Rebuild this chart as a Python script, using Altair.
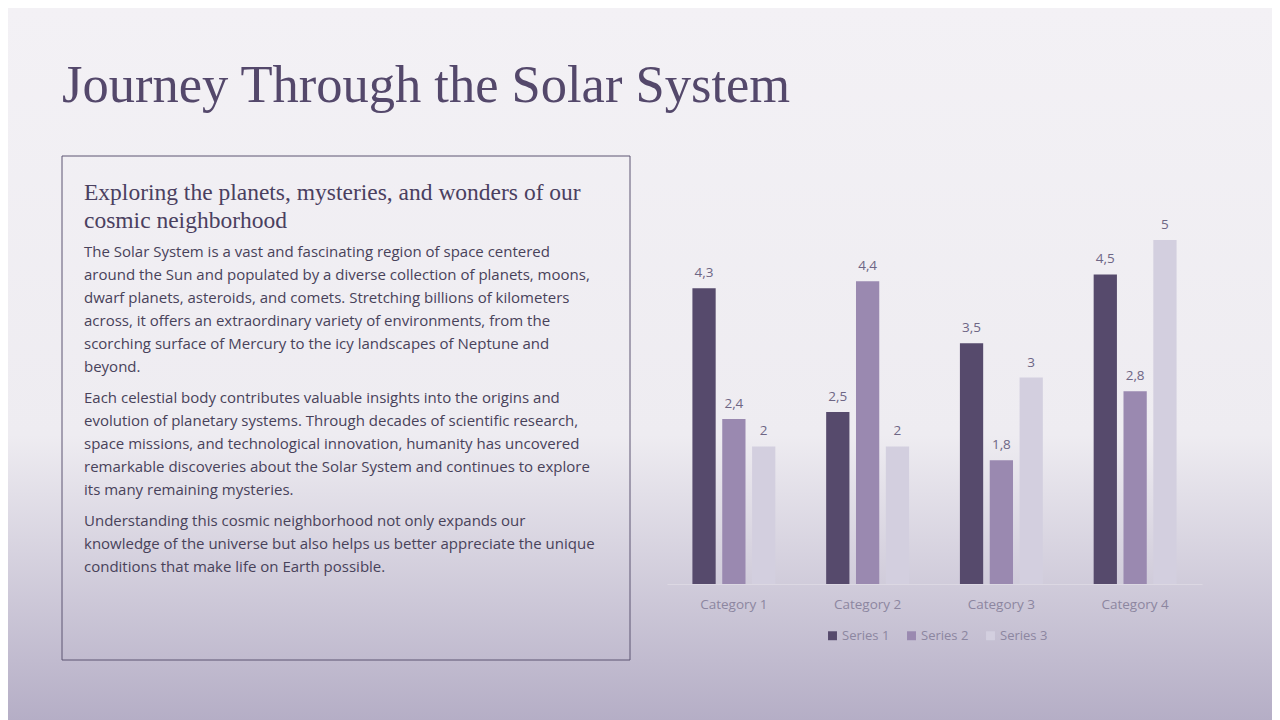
import altair as alt
import pandas as pd

# Dados do gráfico
categorias = ["Category 1", "Category 2", "Category 3", "Category 4"]
series = ["Series 1", "Series 2", "Series 3"]
serie_1 = [4.3, 2.5, 3.5, 4.5]
serie_2 = [2.4, 4.4, 1.8, 2.8]
serie_3 = [2.0, 2.0, 3.0, 5.0]
cores = ["#564a6c", "#9a89b0", "#d3cfdf"]

titulo = "Journey Through the Solar System"
subtitulo = [
    "Exploring the planets, mysteries, and wonders of our",
    "cosmic neighborhood",
]
paragrafos = [
    [
        "The Solar System is a vast and fascinating region of space centered",
        "around the Sun and populated by a diverse collection of planets, moons,",
        "dwarf planets, asteroids, and comets. Stretching billions of kilometers",
        "across, it offers an extraordinary variety of environments, from the",
        "scorching surface of Mercury to the icy landscapes of Neptune and",
        "beyond.",
    ],
    [
        "Each celestial body contributes valuable insights into the origins and",
        "evolution of planetary systems. Through decades of scientific research,",
        "space missions, and technological innovation, humanity has uncovered",
        "remarkable discoveries about the Solar System and continues to explore",
        "its many remaining mysteries.",
    ],
    [
        "Understanding this cosmic neighborhood not only expands our",
        "knowledge of the universe but also helps us better appreciate the unique",
        "conditions that make life on Earth possible.",
    ],
]

# Área do gráfico de barras na página (px da tela)
X0, Y0, PW, PH = 667, 240, 535, 344
SANS = "Open Sans"


def px(x):
    return x - X0


def py(y):
    return y - Y0


# Tabela longa das barras
linhas = []
for nome, valores in zip(series, [serie_1, serie_2, serie_3]):
    for cat, v in zip(categorias, valores):
        linhas.append({"Categoria": cat, "Serie": nome, "Valor": v,
                       "Rotulo": f"{v:g}".replace(".", ",")})
dados = pd.DataFrame(linhas)
um = pd.DataFrame({"a": [0]})

# Fundo em degradê
fundo = alt.Chart(um).mark_rect(
    color=alt.LinearGradient(
        gradient="linear", x1=0, x2=0, y1=0, y2=1,
        stops=[alt.GradientStop(color="#f3f1f5", offset=0),
               alt.GradientStop(color="#eeecf1", offset=0.6),
               alt.GradientStop(color="#b5aec6", offset=1)])
).encode(x=alt.value(px(8)), x2=alt.value(px(1272)),
         y=alt.value(py(8)), y2=alt.value(py(720)))

tit = alt.Chart(um).mark_text(
    text=titulo, font="Liberation Serif", fontSize=52.5, color="#54486b",
    align="left", baseline="alphabetic"
).encode(x=alt.value(px(62)), y=alt.value(py(102)))

caixa = alt.Chart(um).mark_rect(
    fill="transparent", stroke="#5d5473", strokeWidth=1
).encode(x=alt.value(px(62)), x2=alt.value(px(630)),
         y=alt.value(py(156)), y2=alt.value(py(660)))

t_sub = alt.Chart(um).mark_text(
    text=subtitulo, lineHeight=28, font="Liberation Serif", fontSize=23.5,
    color="#4a4060", align="left", baseline="alphabetic"
).encode(x=alt.value(px(84)), y=alt.value(py(200)))

# Um bloco de texto por parágrafo
blocos = []
topo = 245
for par in paragrafos:
    blocos.append(alt.Chart(um).mark_text(
        text=par, lineHeight=23, font=SANS, fontSize=15, color="#48425a",
        align="left", baseline="top"
    ).encode(x=alt.value(px(84)), y=alt.value(py(topo))))
    topo += 23 * len(par) + 8

base = alt.Chart(dados).encode(
    x=alt.X("Categoria:N", sort=categorias, title=None,
            scale=alt.Scale(paddingInner=0.38, paddingOuter=0.19),
            axis=alt.Axis(labelAngle=0, ticks=False, labelPadding=13, zindex=1,
                          labelFont=SANS, labelFontSize=13.5, labelColor="#8c86a0",
                          domainColor="#dcd8e3", domainWidth=1, grid=False)),
    xOffset=alt.XOffset("Serie:N", sort=series, scale=alt.Scale(paddingInner=0.22)),
    y=alt.Y("Valor:Q", scale=alt.Scale(domain=[0, 5]), axis=None),
)

barras = base.mark_bar().encode(
    color=alt.Color("Serie:N", scale=alt.Scale(domain=series, range=cores),
                    legend=alt.Legend(title=None, orient="none", direction="horizontal",
                                      legendX=px(826), legendY=py(629), symbolType="square",
                                      symbolSize=80, symbolStrokeWidth=0,
                                      labelFont=SANS, labelFontSize=13,
                                      labelColor="#8c86a0", columnPadding=15,
                                      labelOffset=3))
)

rotulos = base.mark_text(
    font=SANS, fontSize=13.5, color="#6e6685", baseline="alphabetic", dy=-11
).encode(text="Rotulo:N")

chart = alt.layer(
    fundo, tit, caixa, t_sub, *blocos, barras, rotulos
).properties(
    width=PW, height=PH,
    padding={"left": X0 - 8, "top": Y0 - 8,
             "right": 1272 - X0 - PW, "bottom": 720 - Y0 - PH},
    autosize=alt.AutoSizeParams(type="none"),
).configure_view(stroke=None)

chart.save("out.html", embed_options={"renderer": "svg", "actions": False})
